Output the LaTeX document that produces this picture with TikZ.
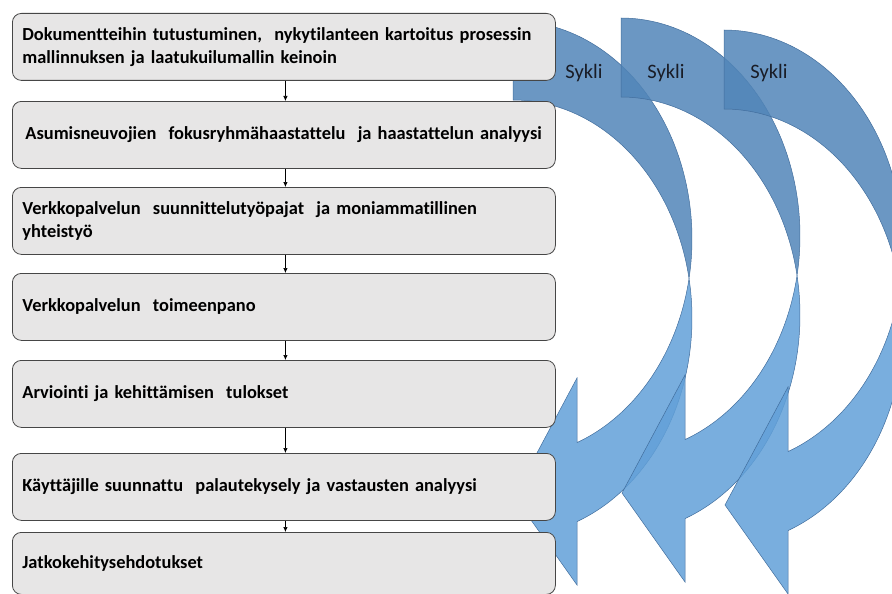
\documentclass[tikz,border=0pt]{standalone}
\usepackage{fontspec}
\setmainfont{Carlito}[Ligatures=NoCommon]
\usetikzlibrary{arrows.meta}

\definecolor{boxfill}{RGB}{231,230,230}
\definecolor{boxline}{RGB}{70,70,70}
\definecolor{bandfront}{RGB}{98,160,216}
\definecolor{bandback}{RGB}{81,133,184}
\definecolor{bandline}{RGB}{66,110,158}
\definecolor{labelink}{RGB}{25,28,38}

\tikzset{
  stepbox/.style={draw=boxline, line width=0.8pt, fill=boxfill, rounded corners=9pt,
    minimum width=543pt, minimum height=67pt, text width=523pt, inner xsep=10pt,
    align=left, anchor=north west,
    font=\fontsize{18.4}{23}\selectfont\bfseries},
  flow/.style={draw=black, line width=0.7pt, -{Latex[length=5pt,width=4.5pt]}},
  backpart/.style={fill=bandback, fill opacity=0.85, draw=bandline, line width=0.5pt},
  frontpart/.style={fill=bandfront, fill opacity=0.85, draw=bandline, line width=0.5pt},
  cyclelabel/.style={font=\fontsize{20.5}{24}\selectfont, text=labelink, inner sep=0pt},
  % curved cycle arrow: two equal ellipses (rx 179, ry 218) offset by 79
  cyclearrow/.pic={
    \path[backpart]
      plot[domain=-90:10.44, samples=60, variable=\t] ({179*cos(\t)},{218+218*sin(\t)})
      -- plot[domain=-10.44:-90, samples=60, variable=\t] ({179*cos(\t)},{297+218*sin(\t)})
      -- cycle;
    \path[frontpart]
      plot[domain=10.44:69.05, samples=60, variable=\t] ({179*cos(\t)},{218+218*sin(\t)})
      -- (64,357) -- (1,475) -- (64,564)
      -- plot[domain=69.05:-10.44, samples=60, variable=\t] ({179*cos(\t)},{297+218*sin(\t)})
      -- cycle;
  }
}

\begin{document}
\begin{tikzpicture}[x=1pt, y=-1pt]
  \useasboundingbox (0,0) rectangle (892,594);

  % the three cycle arrows
  \pic at (513,21) {cyclearrow};
  \pic at (621,18) {cyclearrow};
  \pic at (724,30) {cyclearrow};

  \node[cyclelabel] (s1) at (584,73) {Sykli};
  \node[cyclelabel] (s2) at (666,73) {Sykli};
  \node[cyclelabel] (s3) at (769,73) {Sykli};

  % process steps
  \node[stepbox] (b1) at (12,13)  {\mbox{Dokumentteihin tutustuminen,\ \ nykytilanteen kartoitus prosessin}\\ \mbox{mallinnuksen ja laatukuilumallin\ keinoin}};
  \node[stepbox] (b2) at (12,101) {\mbox{\hspace{3pt}Asumisneuvojien\ \ fokusryhmähaastattelu\ \ ja haastattelun analyysi}};
  \node[stepbox] (b3) at (12,187) {\mbox{Verkkopalvelun\ \ suunnittelutyöpajat\ \ ja moniammatillinen}\\ yhteistyö};
  \node[stepbox] (b4) at (12,273) {Verkkopalvelun\ \ toimeenpano};
  \node[stepbox] (b5) at (12,360) {Arviointi ja kehittämisen\ \ tulokset};
  \node[stepbox] (b6) at (12,453) {\mbox{Käyttäjille suunnattu\ \ palautekysely ja vastausten analyysi}};
  \node[stepbox, minimum height=62pt] (b7) at (12,532) {Jatkokehitysehdotukset};

  % connectors
  \foreach \a/\b in {b1/b2, b2/b3, b3/b4, b4/b5, b5/b6, b6/b7}
    \draw[flow] ([xshift=1.5pt]\a.south) -- ([xshift=1.5pt]\b.north);
\end{tikzpicture}
\end{document}
